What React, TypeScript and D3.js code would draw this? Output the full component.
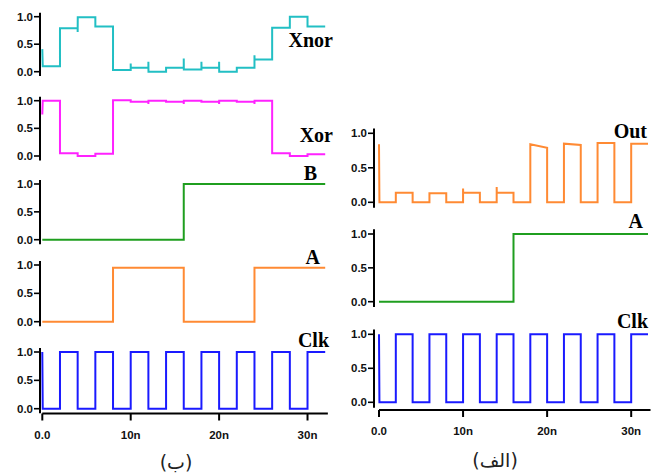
import React from "react";
import * as d3 from "d3";

// ---- data: levels per 2 ns interval (0..32 ns) ----
const timeStep = 2;
const xTicks = [0, 10, 20, 30];
const xTickLabels = ["0.0", "10n", "20n", "30n"];
const yTicks = [0, 0.5, 1];

const xnorStart = 0.41;
const xnorLevels = [0.1, 0.79, 0.99, 0.82, 0.03, 0.07, 0.0, 0.07, 0.04, 0.07, 0.0, 0.07, 0.22, 0.8, 1.0, 0.82];
const xnorGlitch = [null, null, 0.72, null, null, 0.15, 0.18, null, 0.24, 0.18, 0.18, null, 0.3, null, null, null];

const xorStart = 0.75;
const xorLevels = [1.0, 0.05, 0.0, 0.04, 1.01, 0.98, 1.0, 0.98, 1.0, 0.98, 1.0, 0.98, 1.0, 0.05, 0.0, 0.03];
const xorGlitch = [null, null, null, null, null, null, 0.94, null, 0.94, null, 0.94, null, 0.94, null, null, null];

const bLevels = [0, 0, 0, 0, 0, 0, 0, 0, 1, 1, 1, 1, 1, 1, 1, 1];
const aLevels = [0, 0, 0, 0, 0.95, 0.95, 0.95, 0.95, 0, 0, 0, 0, 0.95, 0.95, 0.95, 0.95];
const clkStart = 1;
const clkLevels = [0, 1, 0, 1, 0, 1, 0, 1, 0, 1, 0, 1, 0, 1, 0, 1];

const outStart = 0.84;
const outLevels = [0, 0.14, 0, 0.13, 0, 0.14, 0, 0.14, 0, 0.84, 0, 0.85, 0, 0.86, 0, 0.85];
const outLevelsEnd = [0, 0.14, 0, 0.13, 0, 0.14, 0, 0.14, 0, 0.79, 0, 0.83, 0, 0.86, 0, 0.85];
const outGlitch = [null, null, null, null, null, 0.2, null, 0.22, null, null, null, null, null, null, null, null];
const aRightLevels = [0, 0, 0, 0, 0, 0, 0, 0, 1, 1, 1, 1, 1, 1, 1, 1];

type Pt = [number, number];

function buildWave(levels: number[], start?: number, glitch?: (number | null)[], ends?: number[]): Pt[] {
  const pts: Pt[] = [];
  if (start !== undefined) {
    pts.push([0, start]);
    pts.push([0.05, levels[0]]);
  } else {
    pts.push([0, levels[0]]);
  }
  levels.forEach((v, i) => {
    const t = i * timeStep;
    const prev = i === 0 ? levels[0] : (ends ? ends[i - 1] : levels[i - 1]);
    if (i > 0) {
      pts.push([t, prev]);
      const g = glitch ? glitch[i] : null;
      if (g !== null && g !== undefined) {
        pts.push([t, g]);
        pts.push([t + 0.01, v]);
      } else {
        pts.push([t, v]);
      }
    }
    const e = ends ? ends[i] : v;
    pts.push([t + timeStep, e]);
  });
  return pts;
}

const serif = "'Liberation Serif', 'Times New Roman', serif";
const sans = "'Liberation Sans', Arial, sans-serif";

type Panel = {
  name: string;
  color: string;
  y1: number;
  y0: number;
  pts: Pt[];
  labelX: number;
  labelY: number;
};

function Side({ x0, x32, axisX, panels, axisY, caption, captionX, captionY }: {
  x0: number; x32: number; axisX: number; panels: Panel[]; axisY: number; caption: string; captionX: number; captionY: number;
}) {
  const x = d3.scaleLinear().domain([0, 32]).range([x0, x32]);
  return (
    <g>
      {panels.map((p) => {
        const y = d3.scaleLinear().domain([0, 1]).range([p.y0, p.y1]);
        const line = d3.line<Pt>().x((d) => x(d[0])).y((d) => y(d[1]));
        return (
          <g key={p.name}>
            <line x1={axisX} x2={axisX} y1={y(1.07)} y2={y(-0.08)} stroke="#000" strokeWidth={2} />
            {yTicks.map((t) => (
              <g key={t}>
                <line x1={axisX - 6} x2={axisX} y1={y(t)} y2={y(t)} stroke="#000" strokeWidth={1.6} />
                <text x={axisX - 7} y={y(t)} dy="0.36em" textAnchor="end" fontFamily={sans} fontWeight="bold" fontSize={11.5} fill="#111">
                  {d3.format(".1f")(t)}
                </text>
              </g>
            ))}
            <path d={line(p.pts) || ""} fill="none" stroke={p.color} strokeWidth={2} strokeLinejoin="miter" />
            <text x={p.labelX} y={p.labelY} textAnchor="end" fontFamily={serif} fontWeight="bold" fontSize={20} fill="#000">
              {p.name}
            </text>
          </g>
        );
      })}
      <line x1={x(0)} x2={x(32.3)} y1={axisY} y2={axisY} stroke="#000" strokeWidth={2} />
      {xTicks.map((t, i) => (
        <g key={t}>
          <line x1={x(t)} x2={x(t)} y1={axisY} y2={axisY + 7} stroke="#000" strokeWidth={2} />
          <text x={x(t)} y={axisY + 21} dy="0.36em" textAnchor="middle" fontFamily={sans} fontWeight="bold" fontSize={11.5} fill="#111">
            {xTickLabels[i]}
          </text>
        </g>
      ))}
      <text x={captionX} y={captionY} dy="0.36em" textAnchor="middle" fontFamily="'DejaVu Sans', sans-serif" fontSize={19} fill="#222">
        {caption}
      </text>
    </g>
  );
}

export default function App() {
  const left: Panel[] = [
    { name: "Xnor", color: "#22bfc4", y1: 16.7, y0: 71.7, pts: buildWave(xnorLevels, xnorStart, xnorGlitch), labelX: 333, labelY: 47 },
    { name: "Xor", color: "#ff22ff", y1: 100.7, y0: 156, pts: buildWave(xorLevels, xorStart, xorGlitch), labelX: 333, labelY: 141.5 },
    { name: "B", color: "#1f9e1f", y1: 184, y0: 239.7, pts: buildWave(bLevels), labelX: 317, labelY: 180 },
    { name: "A", color: "#ff8a33", y1: 265, y0: 321.7, pts: buildWave(aLevels), labelX: 320, labelY: 264 },
    { name: "Clk", color: "#1a1aff", y1: 352, y0: 408.7, pts: buildWave(clkLevels, clkStart), labelX: 329, labelY: 346.5 },
  ];
  const right: Panel[] = [
    { name: "Out", color: "#ff8a33", y1: 133.3, y0: 202.3, pts: buildWave(outLevels, outStart, outGlitch, outLevelsEnd), labelX: 647, labelY: 138.3 },
    { name: "A", color: "#1f9e1f", y1: 234, y0: 301.7, pts: buildWave(aRightLevels), labelX: 643, labelY: 228 },
    { name: "Clk", color: "#1a1aff", y1: 334.3, y0: 402.3, pts: buildWave(clkLevels, clkStart), labelX: 648, labelY: 328 },
  ];
  return (
    <svg width={656} height={475} style={{ position: "absolute", left: 0, top: 0, background: "#fff" }}>
      <rect width={656} height={475} fill="#fff" />
      <Side x0={42.3} x32={325.2} axisX={40} panels={left} axisY={413.5} caption="(ب)" captionX={176} captionY={462} />
      <Side x0={379} x32={648} axisX={374} panels={right} axisY={410} caption="(الف)" captionX={495} captionY={460} />
    </svg>
  );
}
